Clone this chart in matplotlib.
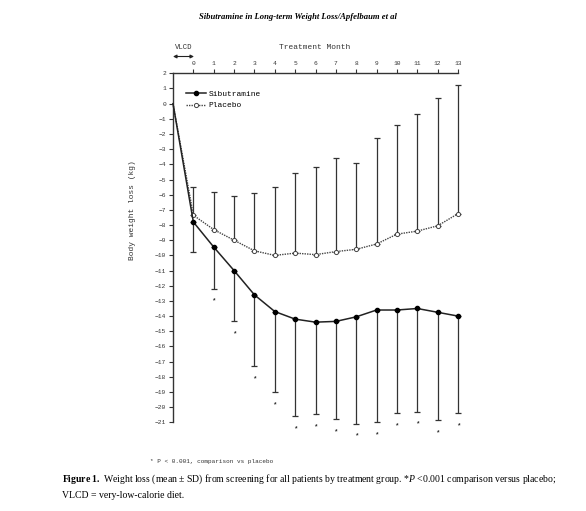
import matplotlib
matplotlib.use("Agg")
import matplotlib.pyplot as plt
import numpy as np

# ---- data ----
months = [-1, 0, 1, 2, 3, 4, 5, 6, 7, 8, 9, 10, 11, 12, 13]
sib_mean = [0, -7.8, -9.45, -11.0, -12.6, -13.7, -14.2, -14.4, -14.35, -14.05, -13.6, -13.6, -13.5, -13.75, -14.0]
sib_sd = [0, 2.0, 2.75, 3.35, 4.7, 5.3, 6.4, 6.05, 6.45, 7.05, 7.4, 6.8, 6.8, 7.1, 6.4]
pla_mean = [0, -7.35, -8.3, -9.0, -9.7, -10.0, -9.85, -9.95, -9.75, -9.6, -9.25, -8.6, -8.4, -8.05, -7.25]
pla_sd = [0, 1.85, 2.5, 2.9, 3.8, 4.5, 5.25, 5.75, 6.15, 5.7, 7.0, 7.2, 7.7, 8.4, 8.5]
signif = [False, False, True, True, True, True, True, True, True, True, True, True, True, True, True]
xticks = list(range(0, 14))
yticks = list(range(2, -22, -1))

mono = "Liberation Mono"
serif = "Liberation Serif"
plt.rcParams["mathtext.fontset"] = "custom"
plt.rcParams["mathtext.rm"] = "Liberation Serif"
plt.rcParams["mathtext.it"] = "Liberation Serif:italic"
plt.rcParams["mathtext.bf"] = "Liberation Serif:bold"

fig = plt.figure(figsize=(5.86, 5.11), dpi=100)
ax = fig.add_axes([173 / 586, 1 - 422.3 / 511, 285 / 586, (422.3 - 73.3) / 511])

x = np.array(months)
sm = np.array(sib_mean)
ss = np.array(sib_sd)
pm = np.array(pla_mean)
ps = np.array(pla_sd)

# error bars (sibutramine: lower SD; placebo: upper SD)
ax.errorbar(x[1:], sm[1:], yerr=[ss[1:], np.zeros_like(ss[1:])], fmt="none",
            ecolor="#333333", elinewidth=0.9, capsize=2.5, capthick=0.9, clip_on=False, zorder=2)
ax.errorbar(x[1:], pm[1:], yerr=[np.zeros_like(ps[1:]), ps[1:]], fmt="none",
            ecolor="#333333", elinewidth=0.9, capsize=2.5, capthick=0.9, clip_on=False, zorder=2)

ax.plot(x, pm, linestyle=(0, (1, 0.8)), color="#444444", linewidth=1.0,
        marker="o", markersize=3, markerfacecolor="white", markeredgecolor="#444444",
        markeredgewidth=0.7, markevery=list(range(1, len(x))), label="Placebo", zorder=3, clip_on=False)
ax.plot(x, sm, linestyle="-", color="#222222", linewidth=1.1,
        marker="o", markersize=3, markerfacecolor="black", markeredgecolor="black",
        markevery=list(range(1, len(x))), label="Sibutramine", zorder=4, clip_on=False)

for xi, m, s, sig in zip(x, sm, ss, signif):
    if sig:
        ax.annotate("*", (xi, m - s), xytext=(0, -9), textcoords="offset points",
                    ha="center", va="center", fontsize=5.5, family=mono,
                    annotation_clip=False)

ax.set_xlim(-1, 13)
ax.set_ylim(-21, 2)
ax.xaxis.tick_top()
ax.set_xticks(xticks)
ax.set_xticklabels([str(t) for t in xticks], fontsize=4.5, family=mono)
ax.set_yticks(yticks)
ax.set_yticklabels([("\u2212" + str(-t)) if t < 0 else str(t) for t in yticks], fontsize=4.5, family=mono)
ax.tick_params(axis="both", length=3, width=0.8, pad=2, color="#333333", labelcolor="#333333")
for side in ["right", "bottom"]:
    ax.spines[side].set_visible(False)
for side in ["left", "top"]:
    ax.spines[side].set_linewidth(1.0)
    ax.spines[side].set_color("#333333")

ax.set_ylabel("Body weight loss (kg)", fontsize=5.7, family=mono, color="#333333")
ax.yaxis.set_label_coords(-0.13, 0.607)

handles, labels = ax.get_legend_handles_labels()
leg = ax.legend(handles[::-1], labels[::-1], loc="upper left", bbox_to_anchor=(0.035, 0.96),
                frameon=False, prop={"family": mono, "size": 5.7}, handlelength=2.5,
                handletextpad=0.3, labelspacing=0.5, borderaxespad=0)

fig.text(315 / 586, 1 - 47 / 511, "Treatment Month", ha="center", va="center",
         fontsize=5.7, family=mono, color="#333333")
fig.text(184 / 586, 1 - 47 / 511, "VLCD", ha="center", va="center",
         fontsize=5.2, family=mono, color="#333333")
fig.add_artist(matplotlib.patches.FancyArrowPatch(
    (173 / 586, 1 - 56.5 / 511), (194 / 586, 1 - 56.5 / 511), transform=fig.transFigure,
    arrowstyle="<|-|>", color="#222222", lw=0.8, mutation_scale=5, shrinkA=0, shrinkB=0))

fig.text(298 / 586, 1 - 17 / 511, "Sibutramine in Long-term Weight Loss/Apfelbaum et al",
         ha="center", va="center", fontsize=6.2, family=serif, style="italic", weight="bold")

fig.text(150 / 586, 1 - 461 / 511, "* P < 0.001, comparison vs placebo", ha="left", va="center",
         fontsize=4.3, family=mono, color="#333333")

fig.text(62 / 586, 1 - 479 / 511,
         r"$\bf{Figure\ 1.}$ Weight loss (mean " + "\u00b1" + r" SD) from screening for all patients by treatment group. *$\it{P}$ <0.001 comparison versus placebo;",
         ha="left", va="center", fontsize=7.0, family=serif)
fig.text(62 / 586, 1 - 496 / 511, "VLCD = very-low-calorie diet.", ha="left", va="center",
         fontsize=7.0, family=serif)

fig.savefig("out.png", dpi=100)
